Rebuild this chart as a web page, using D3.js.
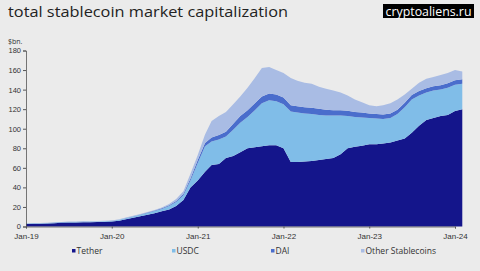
<!DOCTYPE html>
<html>
<head>
<meta charset="utf-8">
<script src="https://cdn.jsdelivr.net/npm/d3@7"></script>
<style>
  html, body { margin: 0; padding: 0; background: #ebebeb; }
  svg { display: block; font-family: "Open Sans", "DejaVu Sans", sans-serif; }
</style>
</head>
<body>
<svg width="480" height="271"></svg>
<script>
// monthly values, $bn, Jan-2019 .. Feb-2024
const tether = [2.5, 2.6, 2.8, 3.0, 3.3, 3.8, 4.0, 4.2, 4.3, 4.4, 4.5, 4.7,
  5.0, 6.0, 7.5, 9.0, 10.5, 12.0, 13.5, 15.5, 17.5, 21.0, 27.0, 40.0,
  47.0, 56.0, 63.0, 64.0, 70.0, 72.0, 76.0, 80.0, 81.0, 82.0, 83.0, 83.0,
  80.0, 66.0, 66.0, 66.5, 67.0, 68.0, 69.0, 70.0, 74.0, 80.0, 81.5, 82.5,
  84.0, 84.0, 85.0, 86.0, 88.0, 90.0, 96.0, 103.0, 109.0, 111.0, 113.0, 114.0,
  118.0, 120.0];
const usdc = [0.5, 0.5, 0.5, 0.6, 0.6, 0.6, 0.6, 0.6, 0.6, 0.6, 0.6, 0.6,
  0.7, 0.8, 1.0, 1.2, 1.5, 1.8, 2.3, 2.5, 3.5, 4.0, 5.0, 7.0,
  18, 26, 24, 25, 22, 27, 30, 32, 38, 44, 46, 45,
  45, 51.5, 50.5, 49, 48, 46, 44.5, 43.5, 39.5, 33, 30.5, 29,
  27, 26.5, 25, 25, 27, 32, 34, 31, 28, 28, 27, 28,
  27, 26];
const dai = [0.1, 0.1, 0.1, 0.1, 0.1, 0.1, 0.1, 0.1, 0.1, 0.1, 0.1, 0.1,
  0.2, 0.2, 0.3, 0.3, 0.4, 0.5, 0.6, 0.7, 0.8, 1.0, 1.5, 2.0,
  3.0, 3.5, 4.0, 4.5, 5.0, 6.0, 7.0, 7.0, 7.0, 7.0, 7.0, 7.0,
  7.0, 6.5, 6.5, 6.5, 6.5, 6.5, 6.0, 5.5, 5.5, 5.5, 5.0, 5.0,
  4.5, 4.5, 4.5, 4.5, 4.5, 4.5, 4.5, 4.5, 4.5, 4.5, 4.5, 4.5,
  4.5, 4.5];
const other = [0.2, 0.2, 0.2, 0.2, 0.2, 0.2, 0.3, 0.3, 0.3, 0.4, 0.4, 0.4,
  0.3, 0.3, 0.3, 0.4, 0.4, 0.5, 0.6, 0.8, 1.2, 2.0, 2.5, 5.0,
  5.0, 8.5, 17, 19.5, 20, 20, 20, 23, 26, 29, 27, 25,
  25, 28, 26, 25, 24.5, 22.5, 21.5, 20, 18, 15.5, 13, 10.5,
  8.5, 8, 9.5, 10.5, 10.5, 8.5, 6.5, 8.5, 9.5, 9.5, 10.5, 10.5,
  10.5, 8];

const series = ['Tether', 'USDC', 'DAI', 'Other Stablecoins'];
const yTicks = [0, 20, 40, 60, 80, 100, 120, 140, 160, 180];
const xTickYears = [2019, 2020, 2021, 2022, 2023, 2024];

const colors = {
  'Tether': '#14158b',
  'USDC': '#80bde8',
  'DAI': '#4a6dcc',
  'Other Stablecoins': '#a9bce4'
};

const months = d3.timeMonth.range(new Date(2019, 0, 1), new Date(2024, 1, 2));
const rows = months.map((d, i) => ({
  date: d,
  'Tether': tether[i],
  'USDC': usdc[i],
  'DAI': dai[i],
  'Other Stablecoins': other[i]
}));

const svg = d3.select('svg');

const x = d3.scaleTime()
  .domain([new Date(2019, 0, 1), new Date(2024, 0, 1)])
  .range([26, 455]);
const y = d3.scaleLinear()
  .domain([0, 180])
  .range([226.5, 50.5]);

// stacked areas
const stacked = d3.stack().keys(series)(rows);
const area = d3.area()
  .x(d => x(d.data.date))
  .y0(d => y(d[0]))
  .y1(d => y(d[1]));

svg.append('g')
  .selectAll('path')
  .data(stacked)
  .join('path')
  .attr('fill', d => colors[d.key])
  .attr('d', area);

// y axis
const yAxis = svg.append('g')
  .attr('transform', 'translate(26,0)')
  .call(d3.axisLeft(y).tickValues(yTicks).tickSize(3).tickPadding(2));
yAxis.select('.domain').attr('stroke', '#555').attr('stroke-width', 0.8);
yAxis.selectAll('.tick line').attr('stroke', '#555');
yAxis.selectAll('text').attr('fill', '#333').attr('font-size', 7.5);

// x axis
const xAxis = svg.append('g')
  .attr('transform', 'translate(0,226.5)')
  .call(d3.axisBottom(x)
    .tickValues(xTickYears.map(yr => new Date(yr, 0, 1)))
    .tickFormat(d3.timeFormat('%b-%y'))
    .tickSize(2).tickPadding(4.5));
xAxis.select('.domain').attr('stroke', '#555').attr('stroke-width', 0.8);
xAxis.selectAll('.tick line').attr('stroke', '#555');
xAxis.selectAll('text').attr('fill', '#333').attr('font-size', 8);

// unit label
svg.append('text')
  .attr('x', 8).attr('y', 44)
  .attr('font-size', 7).attr('fill', '#333')
  .text('$bn.');

// title
svg.append('text')
  .attr('x', 8).attr('y', 17)
  .attr('font-size', 15).attr('fill', '#222')
  .attr('textLength', 280).attr('lengthAdjust', 'spacingAndGlyphs')
  .text('total stablecoin market capitalization');

// watermark
svg.append('rect')
  .attr('x', 383).attr('y', 4).attr('width', 91).attr('height', 14)
  .attr('fill', '#000');
svg.append('text')
  .attr('x', 428.5).attr('y', 15.5)
  .attr('text-anchor', 'middle')
  .attr('font-size', 12.5).attr('fill', '#fff')
  .attr('textLength', 86).attr('lengthAdjust', 'spacingAndGlyphs')
  .text('cryptoaliens.ru');

// legend
const legendX = [72, 172, 271, 361];
const legend = svg.append('g')
  .selectAll('g')
  .data(series)
  .join('g')
  .attr('transform', (d, i) => `translate(${legendX[i]},252)`);
legend.append('rect')
  .attr('x', 0).attr('y', -3).attr('width', 3.5).attr('height', 3.5)
  .attr('fill', d => colors[d]);
legend.append('text')
  .attr('x', 4.5).attr('y', 1.5)
  .attr('font-size', 8.5).attr('fill', '#333')
  .text(d => d);
</script>
</body>
</html>
